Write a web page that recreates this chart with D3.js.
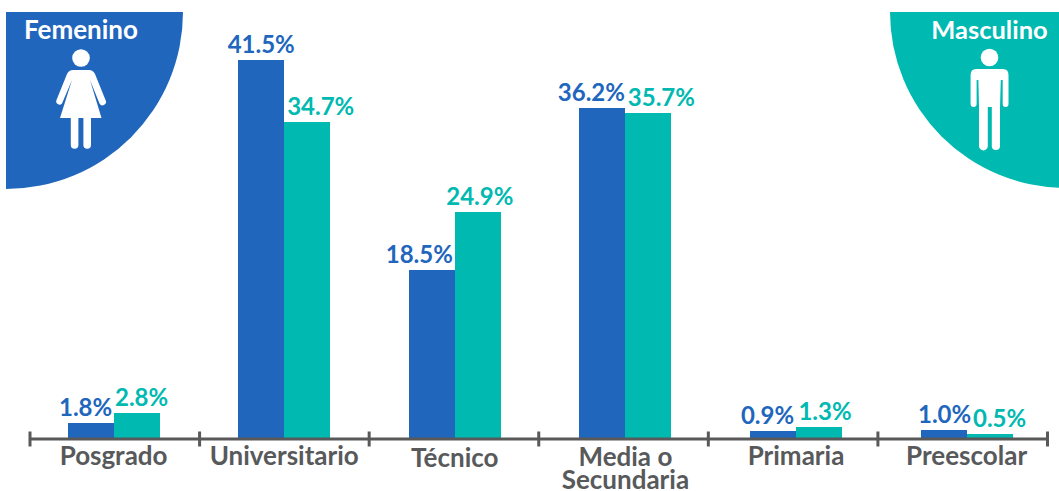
<!DOCTYPE html>
<html lang="es">
<head>
<meta charset="utf-8">
<script src="https://cdn.jsdelivr.net/npm/d3@7"></script>
<style>
html,body{margin:0;padding:0;background:#fff}
svg{display:block}
text{font-family:Lato,"Open Sans",sans-serif;font-weight:700}
</style>
</head>
<body>
<svg id="chart" width="1059" height="491"></svg>
<script>
// Nivel educativo por sexo
const categories = ["Posgrado","Universitario","Técnico","Media o Secundaria","Primaria","Preescolar"];
const femenino = [1.8,41.5,18.5,36.2,0.9,1.0];
const masculino = [2.8,34.7,24.9,35.7,1.3,0.5];
const seriesNames = ["Femenino","Masculino"];
const seriesColors = ["#2166bd","#00b9b1"];

// Desplazamiento horizontal de cada etiqueta respecto a su barra
const labelShift = [[-5,0,-12.5,-11,-5.5,1],[5,13.5,2,13,6,10]];
// Línea base de los nombres de categoría
const categoryBaseline = [465,465,467,466,465,465];

const svg = d3.select("#chart");
const baseY = 439;

const x = d3.scaleBand().domain(categories).range([28.3,1051.9]).padding(0);
const xEdges = d3.scaleLinear().domain([0,categories.length]).range([29.5,1047]);
const y = d3.scaleLinear().domain([0,41.5]).range([baseY,60]);
const barW = 46;
const xs = d3.scaleBand().domain(seriesNames).range([-barW,barW]).padding(0);
const center = c => x(c)+x.bandwidth()/2;

// Barras y etiquetas de valor
[femenino,masculino].forEach((vals,s)=>{
  const name = seriesNames[s];
  const g = svg.append("g");
  g.selectAll("rect").data(vals).join("rect")
    .attr("x",(d,i)=>center(categories[i])+xs(name))
    .attr("width",xs.bandwidth())
    .attr("y",d=>y(d))
    .attr("height",d=>baseY-y(d))
    .attr("fill",seriesColors[s])
    .attr("shape-rendering","crispEdges");
  g.selectAll("text").data(vals).join("text")
    .attr("x",(d,i)=>center(categories[i])+xs(name)+xs.bandwidth()/2+labelShift[s][i])
    .attr("y",d=>y(d)-7)
    .attr("text-anchor","middle")
    .attr("font-size",24)
    .attr("fill",seriesColors[s])
    .text(d=>d.toFixed(1)+"%");
});

// Eje con marcas en los límites de cada categoría
const axis = d3.axisBottom(xEdges).ticks(categories.length).tickSize(0).tickFormat("");
const ax = svg.append("g").attr("transform","translate(0,438.5)").call(axis);
ax.select(".domain").attr("stroke","#595959").attr("stroke-width",3);
ax.selectAll(".tick line").attr("y1",-7).attr("y2",8).attr("stroke","#595959").attr("stroke-width",3);

// Nombres de categoría, con salto de línea donde hace falta
const labelLines = {"Media o Secundaria":["Media o","Secundaria"]};
const lab = svg.append("g").selectAll("text").data(categories).join("text")
  .attr("text-anchor","middle")
  .attr("font-size",26)
  .attr("fill","#58595b")
  .attr("transform",(d,i)=>`translate(${center(d)},${categoryBaseline[i]})`);
lab.selectAll("tspan").data(d=>labelLines[d]||[d]).join("tspan")
  .attr("x",0).attr("dy",(d,i)=>i?23:0).text(d=>d);

// Cuadrantes de la leyenda
const quadrant = (cx,cy,r,a0,a1,fill)=>svg.append("path")
  .attr("transform",`translate(${cx},${cy})`)
  .attr("d",d3.arc()({innerRadius:0,outerRadius:r,startAngle:a0,endAngle:a1}))
  .attr("fill",fill);
quadrant(6,12,177,Math.PI/2,Math.PI,seriesColors[0]);
quadrant(1066,12,176,Math.PI,1.5*Math.PI,seriesColors[1]);

svg.append("text").attr("x",81).attr("y",39).attr("text-anchor","middle").attr("font-size",26).attr("fill","#fff").text(seriesNames[0]);
svg.append("text").attr("x",989.5).attr("y",39).attr("text-anchor","middle").attr("font-size",25.5).attr("fill","#fff").text(seriesNames[1]);

// Pictograma femenino
const fem = svg.append("g").attr("fill","#fff").attr("stroke","none");
fem.append("circle").attr("cx",81).attr("cy",58).attr("r",8.8);
fem.append("path").attr("d","M73 70 L89 70 Q93 70 95 74 L105.5 100 A3.3 3.3 0 0 1 99.5 103.5 L90 80 L101.5 118 L91 118 L91 145 A3.8 3.8 0 0 1 83.4 145 L83.4 118 L78.4 118 L78.4 145 A3.8 3.8 0 0 1 70.8 145 L70.8 118 L60 118 L72 80 L62 103.5 A3.3 3.3 0 0 1 56.5 100 L67 74 Q69 70 73 70 Z");

// Pictograma masculino
const mas = svg.append("g").attr("fill","#fff").attr("stroke","none");
mas.append("circle").attr("cx",989.5).attr("cy",57.5).attr("r",8.8);
mas.append("path").attr("d","M976 69 L1003 69 Q1008.5 69 1008.5 75 L1008.5 104 A2.9 2.9 0 0 1 1002.7 104 L1002.7 80 L1000.8 80 L1000 107 L1000 146 A4.1 4.1 0 0 1 991.8 146 L991.8 107 L987.8 107 L987.8 146 A4.4 4.4 0 0 1 979 146 L979 107 L978.4 80 L976.6 80 L976.6 104 A3 3 0 0 1 970.6 104 L970.6 75 Q970.6 69 976 69 Z");
</script>
</body>
</html>
